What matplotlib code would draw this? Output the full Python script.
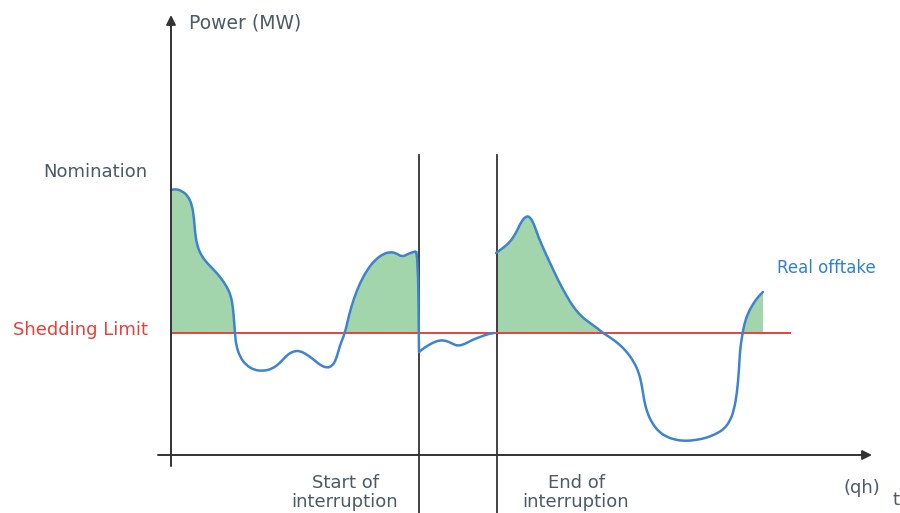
import numpy as np
import matplotlib
matplotlib.use("Agg")
import matplotlib.pyplot as plt
from matplotlib.path import Path
from matplotlib.patches import PathPatch

# Units: t in arbitrary time units (qh), P in arbitrary power units (origin at axes crossing)
SHEDDING_LIMIT = 122
NOMINATION = 283
INTERRUPT_START = 248
INTERRUPT_END = 326

# Real offtake, before interruption
t_before = [0, 5, 11, 17, 21, 23, 24, 26, 30, 36, 43, 50, 56, 60, 62, 63, 64, 65, 69, 75, 83,
            92, 101, 109, 116, 123, 129, 135, 142, 149, 156, 161, 165, 169, 174, 178, 183, 189,
            196, 204, 212, 219, 225, 231, 237, 242, 247]
p_before = [265, 266, 264, 259, 250, 237, 223, 210, 200, 192, 185, 177, 168, 159, 147, 135, 122,
            110, 98, 90, 85, 84, 86, 92, 100, 104, 104, 101, 96, 90, 87, 89, 95, 110, 122, 140,
            157, 172, 185, 195, 201, 203, 202, 198, 201, 203, 204]

# Real offtake, during interruption
t_during = [248, 253, 261, 269, 276, 282, 287, 294, 301, 309, 317, 323]
p_during = [103, 107, 112, 115, 114, 111, 109, 111, 115, 118, 121, 122]

# Real offtake, after interruption
t_after = [325, 332, 339, 345, 350, 355, 359, 363, 367, 373, 380, 387, 395, 403, 411, 419, 426,
           432, 440, 448, 456, 463, 468, 471, 473, 476, 481, 488, 496, 505, 515, 525, 535, 545,
           553, 559, 563, 566, 568, 569, 571, 573, 577, 582, 587, 592]
p_after = [202, 207, 213, 222, 233, 239, 238, 231, 219, 205, 190, 175, 160, 147, 138, 132, 127,
           122, 117, 111, 103, 93, 82, 69, 55, 43, 32, 23, 18, 15, 14, 15, 17, 21, 26, 34, 45,
           62, 85, 105, 118, 130, 142, 151, 158, 163]

fig = plt.figure(figsize=(9, 5.13), dpi=100)
ax = fig.add_axes([0, 0, 1, 1])
ax.set_xlim(-171, 729)
ax.set_ylim(-58, 455)
ax.axis("off")

axis_col = "#333333"
text_col = "#4b5a66"
curve_col = "#3f83cf"
fill_col = "#a2d5ab"
red_col = "#e8413c"


def smooth_path(tt, pp):
    pts = np.column_stack([tt, pp]).astype(float)
    verts = [pts[0], (pts[0] + pts[1]) / 2]
    codes = [Path.MOVETO, Path.LINETO]
    for i in range(1, len(pts) - 1):
        verts += [pts[i], (pts[i] + pts[i + 1]) / 2]
        codes += [Path.CURVE3, Path.CURVE3]
    verts.append(pts[-1])
    codes.append(Path.LINETO)
    return Path(verts, codes)


# Fills above the shedding limit
for tt, pp in [(t_before, p_before), (t_after, p_after)]:
    tt = np.array(tt, float)
    pp = np.array(pp, float)
    ax.fill_between(tt, pp, SHEDDING_LIMIT, where=pp >= SHEDDING_LIMIT,
                    interpolate=True, color=fill_col, lw=0, zorder=1)

# Shedding limit line
ax.plot([0, 619], [SHEDDING_LIMIT, SHEDDING_LIMIT], color=red_col, lw=1.4, zorder=3)

# Interruption vertical lines
for tx in [INTERRUPT_START, INTERRUPT_END]:
    ax.plot([tx, tx], [-60, 300], color=axis_col, lw=1.3, zorder=2)

# Curve
for tt, pp in [(t_before + [t_during[0]], p_before + [p_during[0]]),
               (t_during, p_during), (t_after, p_after)]:
    ax.add_patch(PathPatch(smooth_path(tt, pp), facecolor="none", edgecolor=curve_col,
                           lw=1.8, zorder=4, joinstyle="round", capstyle="round"))

# Axes with arrows
ax.annotate("", xy=(0, 440), xytext=(0, -11),
            arrowprops=dict(arrowstyle="-|>", color=axis_col, lw=1.4, mutation_scale=14,
                            shrinkA=0, shrinkB=0), zorder=5)
ax.annotate("", xy=(701, 0), xytext=(-13, 0),
            arrowprops=dict(arrowstyle="-|>", color=axis_col, lw=1.4, mutation_scale=14,
                            shrinkA=0, shrinkB=0), zorder=5)

fs = 13
ax.text(18, 432, "Power (MW)", color=text_col, fontsize=13.5, va="center", ha="left")
ax.text(-24, NOMINATION, "Nomination", color=text_col, fontsize=fs, va="center", ha="right")
ax.text(-23, SHEDDING_LIMIT + 3, "Shedding Limit", color=red_col, fontsize=fs, va="center", ha="right")
ax.text(606, 187, "Real offtake", color="#2f80d2", fontsize=12, va="center", ha="left")
ax.text(174, -19, "Start of\ninterruption", color=text_col, fontsize=fs, va="top",
        ha="center", linespacing=1.05)
ax.text(405, -19, "End of\ninterruption", color=text_col, fontsize=fs, va="top",
        ha="center", linespacing=1.05)
ax.text(691, -33, "(qh)", color=text_col, fontsize=fs, va="center", ha="center")
ax.text(725, -45, "t", color=text_col, fontsize=fs, va="center", ha="center")

fig.savefig("out.png", dpi=100)
